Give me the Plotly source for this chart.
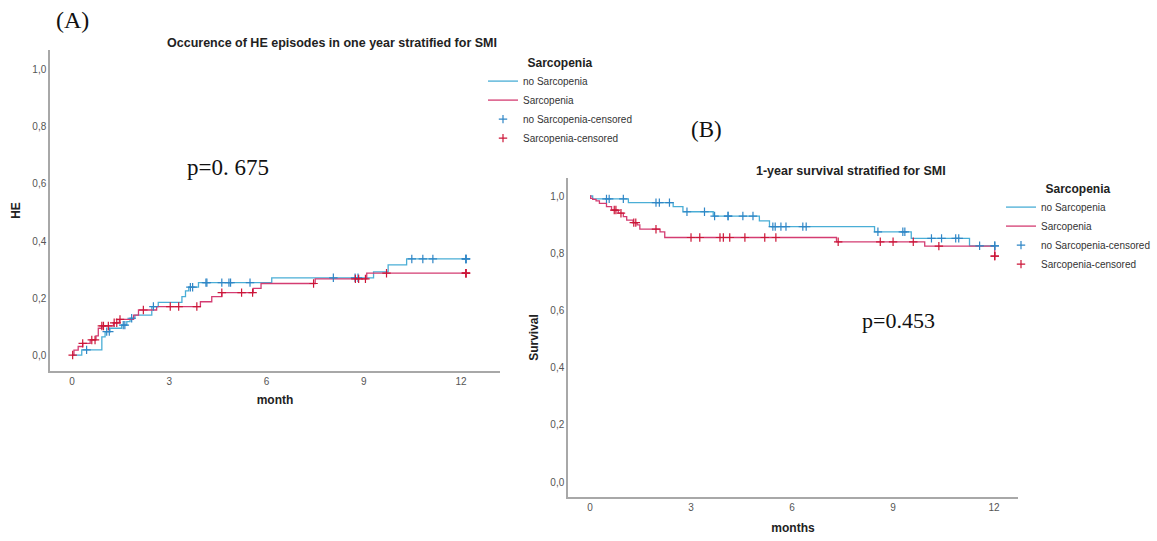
import numpy as np
import plotly.graph_objects as go

# ---------------- Data: (A) cumulative HE occurrence ----------------
he_nosarc_t = [0, 0.30, 0.92, 1.02, 1.17, 1.53, 1.69, 1.79, 1.94, 2.46, 2.66, 3.39, 3.50, 3.60, 3.90, 6.16, 9.30, 9.75, 10.32]
he_nosarc_y = [0, 0.018, 0.064, 0.082, 0.094, 0.105, 0.117, 0.129, 0.140, 0.170, 0.185, 0.205, 0.225, 0.238, 0.254, 0.271, 0.292, 0.316, 0.337]
he_nosarc_cens = [0.45, 1.07, 1.15, 1.58, 1.63, 1.84, 2.51, 3.65, 3.72, 4.13, 4.16, 4.62, 4.84, 4.89, 5.49,
                  8.06, 8.73, 8.82, 10.48, 10.82, 11.13, 12.15, 12.15, 12.15]

he_sarc_t = [0, 0.06, 0.19, 0.33, 0.56, 0.74, 0.81, 0.92, 1.28, 1.46, 1.90, 2.05, 2.61, 3.96, 4.31, 4.62, 5.59, 5.83, 7.50, 9.09]
he_sarc_y = [0, 0.017, 0.030, 0.041, 0.053, 0.067, 0.094, 0.102, 0.113, 0.125, 0.140, 0.158, 0.170, 0.187, 0.205, 0.219, 0.234, 0.251, 0.267, 0.287]
he_sarc_cens = [0.02, 0.33, 0.61, 0.71, 0.92, 0.97, 1.12, 1.30, 1.38, 1.48, 2.20, 3.03, 3.29, 3.85, 4.62, 5.23, 5.57,
                7.45, 8.74, 8.84, 9.05, 9.70, 12.15, 12.15, 12.15]

# ---------------- Data: (B) 1-year survival ----------------
sv_nosarc_t = [0, 0.08, 1.14, 2.47, 2.76, 3.66, 5.03, 5.33, 8.45, 9.54, 11.27]
sv_nosarc_y = [1.0, 0.990, 0.977, 0.963, 0.945, 0.930, 0.913, 0.893, 0.875, 0.852, 0.826]
sv_nosarc_cens = [0.49, 0.57, 0.99, 1.96, 2.06, 2.36, 2.88, 3.40, 3.70, 4.10, 4.10, 4.54, 4.84, 5.43, 5.50, 5.67, 5.82,
                  6.32, 6.42, 8.55, 9.29, 9.35, 10.14, 10.44, 10.86, 10.95, 11.57, 12.02, 12.02]

sv_sarc_t = [0, 0.02, 0.08, 0.18, 0.28, 0.49, 0.64, 0.84, 0.99, 1.09, 1.28, 1.40, 1.48, 2.08, 2.22, 7.32, 9.94, 12.02]
sv_sarc_y = [1.0, 0.992, 0.988, 0.983, 0.974, 0.963, 0.951, 0.940, 0.928, 0.916, 0.907, 0.899, 0.884, 0.875, 0.855, 0.840, 0.825, 0.790]
sv_sarc_cens = [0.72, 0.77, 0.92, 1.30, 1.36, 1.96, 3.00, 3.26, 3.86, 3.96, 4.15, 4.60, 5.19, 5.52, 7.37, 8.62, 9.00,
                9.60, 10.36, 12.02, 12.02]

x_ticks = [0, 3, 6, 9, 12]
y_ticks = [0, 0.2, 0.4, 0.6, 0.8, 1.0]
group_names = ["no Sarcopenia", "Sarcopenia"]

BLUE_LINE = "#4aaed6"
BLUE_MARK = "#2f86c6"
RED_LINE = "#d43c72"
RED_MARK = "#cc1638"
SANS = "Liberation Sans, Arial, sans-serif"
SERIF = "Liberation Serif, Times New Roman, serif"
W, H = 1157, 541


def step_at(times, vals, pts):
    idx = np.searchsorted(np.asarray(times), np.asarray(pts), side="right") - 1
    return list(np.asarray(vals)[idx])


fig = go.Figure()


def add_group(times, vals, cens, name, lcol, mcol, xa, ya, leg):
    tx = list(times) + [max(cens)]
    ty = list(vals) + [vals[-1]]
    fig.add_trace(go.Scatter(x=tx, y=ty, mode="lines", line=dict(shape="hv", color=lcol, width=1.3),
                             name=name, xaxis=xa, yaxis=ya, legend=leg, hoverinfo="x+y"))
    return dict(x=cens, y=step_at(times, vals, cens), name=name + "-censored", col=mcol)


def add_cens(d, xa, ya, leg):
    fig.add_trace(go.Scatter(x=d["x"], y=d["y"], mode="markers", name=d["name"], xaxis=xa, yaxis=ya, legend=leg,
                             marker=dict(symbol="cross-thin", size=6, line=dict(color=d["col"], width=1.2), color=d["col"])))


# Panel A
cA1 = add_group(he_nosarc_t, he_nosarc_y, he_nosarc_cens, group_names[0], BLUE_LINE, BLUE_MARK, "x", "y", "legend")
cA2 = add_group(he_sarc_t, he_sarc_y, he_sarc_cens, group_names[1], RED_LINE, RED_MARK, "x", "y", "legend")
add_cens(cA1, "x", "y", "legend")
add_cens(cA2, "x", "y", "legend")

# Panel B
cB1 = add_group(sv_nosarc_t, sv_nosarc_y, sv_nosarc_cens, group_names[0], BLUE_LINE, BLUE_MARK, "x2", "y2", "legend2")
cB2 = add_group(sv_sarc_t, sv_sarc_y, sv_sarc_cens, group_names[1], RED_LINE, RED_MARK, "x2", "y2", "legend2")
add_cens(cB1, "x2", "y2", "legend2")
add_cens(cB2, "x2", "y2", "legend2")

axis_common = dict(showline=True, linecolor="#a8a8a8", linewidth=1.5, showgrid=False, zeroline=False, ticks="",
                   tickfont=dict(family=SANS, size=10, color="#555555"), mirror=False)

fig.update_layout(
    width=W, height=H,
    margin=dict(l=0, r=0, t=0, b=0),
    paper_bgcolor="white", plot_bgcolor="white",
    separators=",.",
    showlegend=True,
    xaxis=dict(domain=[50 / W, 500 / W], range=[-0.679, 13.20], tickvals=x_ticks, anchor="y",
               title=dict(text="<b>month</b>", font=dict(family=SANS, size=12, color="#222"), standoff=10), **axis_common),
    yaxis=dict(domain=[1 - 371 / H, 1 - 50 / H], range=[-0.056, 1.070], tickvals=y_ticks, tickformat=".1f", anchor="x",
               title=dict(text="<b>HE</b>", font=dict(family=SANS, size=12, color="#222"), standoff=9), **axis_common),
    xaxis2=dict(domain=[568 / W, 1018 / W], range=[-0.653, 12.71], tickvals=x_ticks, anchor="y2",
                title=dict(text="<b>months</b>", font=dict(family=SANS, size=12, color="#222"), standoff=12), **axis_common),
    yaxis2=dict(domain=[1 - 497 / H, 1 - 178 / H], range=[-0.052, 1.063], tickvals=y_ticks, tickformat=".1f", anchor="x2",
                title=dict(text="<b>Survival</b>", font=dict(family=SANS, size=12, color="#222"), standoff=9), **axis_common),
    legend=dict(x=483 / W, y=1 - 51 / H, xanchor="left", yanchor="top", bgcolor="rgba(0,0,0,0)",
                font=dict(family=SANS, size=10, color="#333"), itemwidth=30, traceorder="normal",
                title=dict(text="<b>Sarcopenia</b>", side="top center", font=dict(family=SANS, size=12, color="#222"))),
    legend2=dict(x=1001 / W, y=1 - 177 / H, xanchor="left", yanchor="top", bgcolor="rgba(0,0,0,0)",
                 font=dict(family=SANS, size=10, color="#333"), itemwidth=30, traceorder="normal",
                 title=dict(text="<b>Sarcopenia</b>", side="top center", font=dict(family=SANS, size=12, color="#222"))),
)

annots = [
    dict(text="<b>Occurence of HE episodes in one year stratified for SMI</b>", x=332 / W, y=1 - 43 / H,
         font=dict(family=SANS, size=12.5, color="#222")),
    dict(text="<b>1-year survival stratified for SMI</b>", x=851 / W, y=1 - 171 / H,
         font=dict(family=SANS, size=12.5, color="#222")),
    dict(text="(A)", x=72 / W, y=1 - 20 / H, font=dict(family=SERIF, size=24, color="#111")),
    dict(text="(B)", x=706 / W, y=1 - 130 / H, font=dict(family=SERIF, size=23, color="#111")),
    dict(text="p=0. 675", x=228 / W, y=1 - 167 / H, font=dict(family=SERIF, size=23, color="#111")),
    dict(text="p=0.453", x=898 / W, y=1 - 320 / H, font=dict(family=SERIF, size=22, color="#111")),
]
for a in annots:
    fig.add_annotation(xref="paper", yref="paper", xanchor="center", yanchor="middle", showarrow=False, **a)

fig.write_html("out.html", config={"displayModeBar": False},
               post_script="document.body.style.margin='0';document.body.style.overflow='hidden';")
